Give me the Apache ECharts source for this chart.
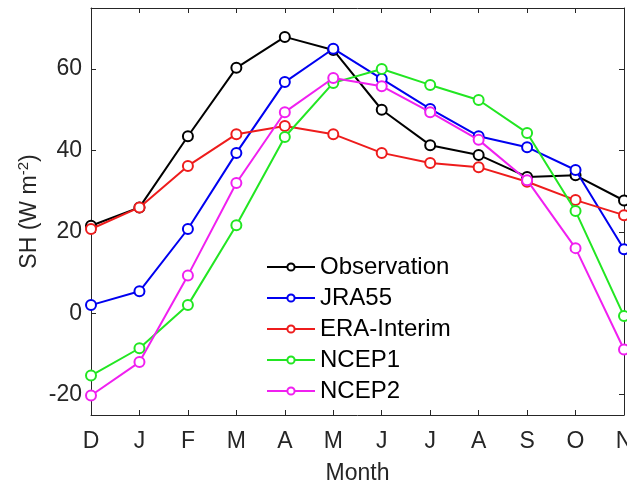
<!DOCTYPE html>
<html>
<head>
<meta charset="utf-8">
<script src="https://cdn.jsdelivr.net/npm/echarts@6/dist/echarts.min.js"></script>
<style>
  html, body { margin: 0; padding: 0; background: #fff; }
  #chartDom { width: 627px; height: 482px; }
</style>
</head>
<body>
<div id="chartDom"></div>
<script>
// months, Dec -> Nov
var months = ['D', 'J', 'F', 'M', 'A', 'M', 'J', 'J', 'A', 'S', 'O', 'N'];
var yTicks = [-20, 0, 20, 40, 60];

var observation = [21.5, 26, 43.5, 60.3, 67.9, 64.7, 50, 41.3, 38.9, 33.5, 33.9, 27.7];
var jra55       = [2, 5.4, 20.7, 39.4, 56.8, 65, 57.6, 50.2, 43.5, 40.8, 35.2, 15.7];
var eraInterim  = [20.7, 26, 36.2, 44, 46, 44, 39.4, 36.9, 35.9, 32.3, 27.8, 24.1];
var ncep1       = [-15.3, -8.6, 2, 21.6, 43.3, 56.6, 60, 56.1, 52.4, 44.3, 25.1, -0.7];
var ncep2       = [-20.2, -12, 9.3, 32, 49.4, 57.8, 55.8, 49.4, 42.6, 32.7, 16, -8.9];

var seriesNames = ['Observation', 'JRA55', 'ERA-Interim', 'NCEP1', 'NCEP2'];
var seriesData = [observation, jra55, eraInterim, ncep1, ncep2];
var colors = ['#000000', '#0000f0', '#ee1c1c', '#22e622', '#f020f0'];

var axisColor = '#262626';
var font = 'Liberation Sans, Arial, sans-serif';

var chartDom = echarts.init(document.getElementById('chartDom'));

function makeSeries(i) {
    return {
        name: seriesNames[i],
        type: 'line',
        data: seriesData[i],
        symbol: 'emptyCircle',
        symbolSize: 10,
        lineStyle: { width: 2, color: colors[i] },
        itemStyle: { color: colors[i], borderWidth: 1.6 },
        emphasis: { disabled: true },
        z: 2 + i
    };
}

var yAxisBase = {
    type: 'value',
    min: -25,
    max: 75,
    splitLine: { show: false },
    axisLine: { show: true, onZero: false, lineStyle: { color: axisColor, width: 1 } },
    axisTick: { show: true, inside: true, length: 5, customValues: yTicks, lineStyle: { color: axisColor } }
};

chartDom.setOption({
    backgroundColor: '#ffffff',
    animation: false,
    color: colors,
    textStyle: { fontFamily: font },
    grid: { left: 91, right: 3, top: 8, bottom: 67, containLabel: false, outerBoundsMode: 'none' },
    legend: {
        orient: 'vertical',
        left: 261,
        top: 250,
        itemWidth: 48,
        itemHeight: 9,
        itemGap: 7,
        textStyle: { fontSize: 24, color: '#000', lineHeight: 24, fontFamily: font },
        data: seriesNames
    },
    xAxis: [{
        type: 'category',
        data: months,
        boundaryGap: false,
        name: 'Month',
        nameLocation: 'middle',
        nameGap: 47,
        nameMoveOverlap: false,
        nameTextStyle: { fontSize: 23, color: axisColor },
        axisLine: { onZero: false, lineStyle: { color: axisColor, width: 1 } },
        axisTick: { inside: true, length: 5, alignWithLabel: true, lineStyle: { color: axisColor } },
        axisLabel: { fontSize: 23, color: axisColor, margin: 15, interval: 0, hideOverlap: false },
        splitLine: { show: false }
    }, {
        type: 'category',
        data: months,
        boundaryGap: false,
        position: 'top',
        axisLine: { onZero: false, lineStyle: { color: axisColor, width: 1 } },
        axisTick: { inside: true, length: 5, lineStyle: { color: axisColor } },
        axisLabel: { show: false },
        splitLine: { show: false }
    }],
    yAxis: [Object.assign({}, yAxisBase, {
        position: 'left',
        name: '{a|SH (W m}{s|-2}{a|)}',
        nameLocation: 'middle',
        nameGap: 48,
        nameMoveOverlap: false,
        nameTextStyle: {
            color: axisColor,
            rich: {
                a: { fontSize: 23, color: axisColor, lineHeight: 27, fontFamily: font },
                s: { fontSize: 15, color: axisColor, lineHeight: 15, verticalAlign: 'top', fontFamily: font }
            }
        },
        axisLabel: { fontSize: 23, color: axisColor, margin: 9, customValues: yTicks }
    }), Object.assign({}, yAxisBase, {
        position: 'right',
        axisLabel: { show: false }
    })],
    series: [0, 1, 2, 3, 4].map(makeSeries)
});
</script>
</body>
</html>
